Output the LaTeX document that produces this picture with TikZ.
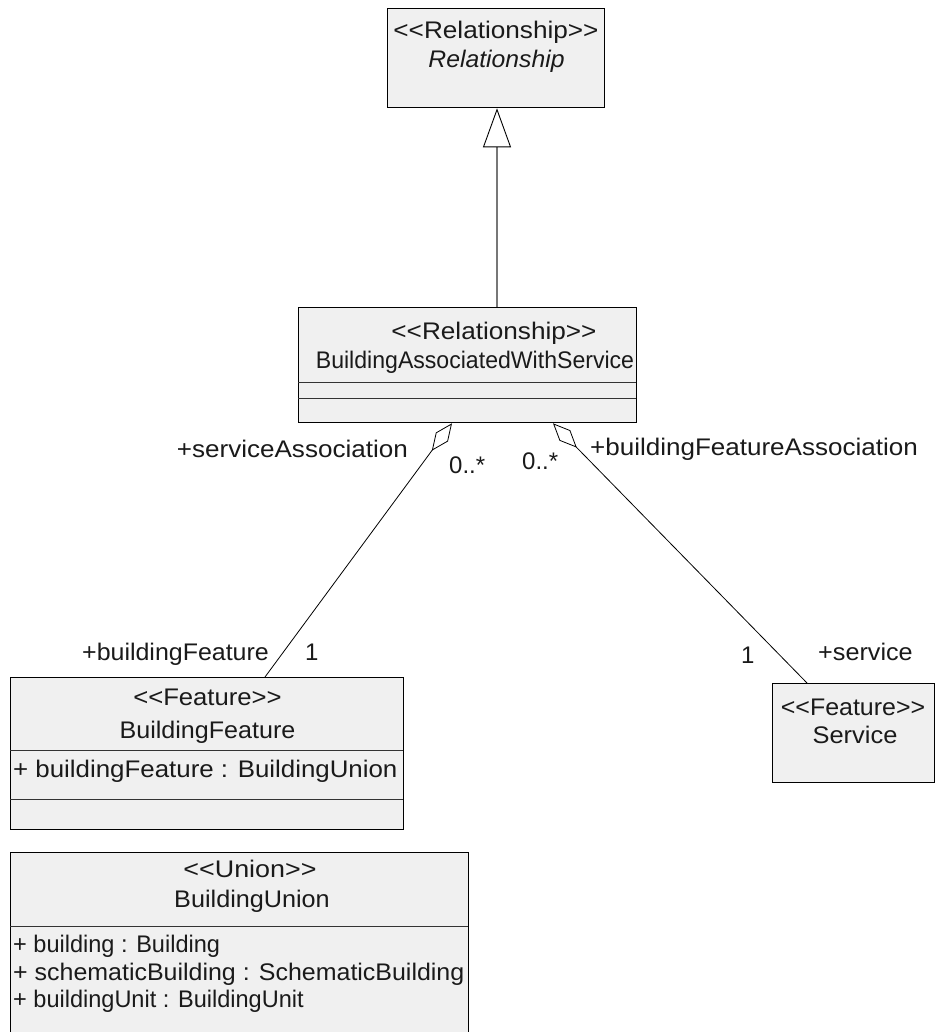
\documentclass[tikz,border=0pt]{standalone}
\usepackage{fontspec}
\usepackage{graphicx}
\setmainfont{Liberation Sans}[Ligatures=TeXOff]
\usetikzlibrary{arrows.meta}
\definecolor{boxfill}{HTML}{F0F0F0}
\definecolor{textc}{HTML}{1A1A1A}
\definecolor{genline}{HTML}{777777}
\newcommand\umlfs{\fontsize{24}{28}\selectfont}
\newcommand\sx[2]{\scalebox{#1}[1]{#2}}
\begin{document}
\begin{tikzpicture}[x=1pt,y=-1pt,
  cls/.style={draw=black, fill=boxfill, line width=1.3pt, inner sep=0pt, anchor=north west},
  txt/.style={anchor=base, inner sep=0pt, font=\umlfs, text=textc},
  ltxt/.style={txt, anchor=base west},
  rtxt/.style={txt, anchor=base east},
  divider/.style={draw=black!80, line width=1pt},
  assoc/.style={draw=black, line width=0.8pt, {Diamond[open,length=34pt,width=15pt,line width=0.8pt]}-},
  gen/.style={draw=genline, line width=1.5pt, -{Triangle[open,length=39pt,width=28pt,color=black,line width=0.9pt]}}
]
\useasboundingbox (0,0) rectangle (936,1032);
\clip (0,0) rectangle (936,1032);
\fill[white] (0,0) rectangle (936,1032);

% Boxes
\node[cls, minimum width=217pt, minimum height=99pt] (rel) at (387,8) {};
\node[cls, minimum width=338pt, minimum height=115pt] (baws) at (298,307) {};
\node[cls, minimum width=393pt, minimum height=152pt] (bf) at (10,677) {};
\node[cls, minimum width=162pt, minimum height=99pt] (svc) at (772,683) {};
\node[cls, minimum width=458pt, minimum height=200pt] (bu) at (10,852) {};

% Dividers
\draw[divider] (298,382) -- (636,382);
\draw[divider] (298,398) -- (636,398);
\draw[divider] (10,750) -- (403,750);
\draw[divider] (10,799) -- (403,799);
\draw[divider] (10,926) -- (468,926);

% Texts
\node[txt] (t1) at (496,39) {\sx{1.09}{<<Relationship>>}};
\node[txt] (t2) at (496.5,68) {\sx{1.03}{\itshape Relationship}};
\node[txt] (t3) at (494,339) {\sx{1.09}{<<Relationship>>}};
\node[txt] (t4) at (475,368) {\sx{0.962}{BuildingAssociatedWithService}};
\node[txt] (t5) at (207.5,705) {\sx{1.07}{<<Feature>>}};
\node[txt] (t6) at (207.5,738) {\sx{1.045}{BuildingFeature}};
\node[ltxt] (t7) at (13,777) {\sx{1.078}{+ buildingFeature : BuildingUnion}};
\node[txt] (t8) at (853,715) {\sx{1.04}{<<Feature>>}};
\node[txt] (t9) at (855,743) {\sx{1.06}{Service}};
\node[txt] (t10) at (250,877) {\sx{1.12}{<<Union>>}};
\node[txt] (t11) at (252,907) {\sx{1.05}{BuildingUnion}};
\node[ltxt] (t12) at (13,952) {\sx{0.98}{+ building : Building}};
\node[ltxt] (t13) at (13,980) {\sx{1.04}{+ schematicBuilding : SchematicBuilding}};
\node[ltxt] (t14) at (13,1007) {\sx{0.98}{+ buildingUnit : BuildingUnit}};

% Connector labels
\node[rtxt] (l1) at (408,457) {\sx{1.085}{+serviceAssociation}};
\node[ltxt] (l2) at (449,473) {0..*};
\node[ltxt] (l3) at (522,469) {0..*};
\node[ltxt] (l4) at (590,455) {\sx{1.084}{+buildingFeatureAssociation}};
\node[ltxt] (l5) at (82,660) {\sx{1.04}{+buildingFeature}};
\node[ltxt] (l6) at (305,660) {1};
\node[ltxt] (l7) at (741,663) {1};
\node[ltxt] (l8) at (818,660) {\sx{1.05}{+service}};

% Connectors
\coordinate (gx) at (497,0);
\coordinate (ax) at (452,0);
\coordinate (bx) at (265,0);
\coordinate (cx) at (553,0);
\coordinate (dx) at (807,0);
\draw[gen] (baws.north -| gx) -- (rel.south -| gx);
\draw[assoc] (baws.south -| ax) -- (bf.north -| bx);
\draw[assoc] (baws.south -| cx) -- (svc.north -| dx);
\end{tikzpicture}
\end{document}
